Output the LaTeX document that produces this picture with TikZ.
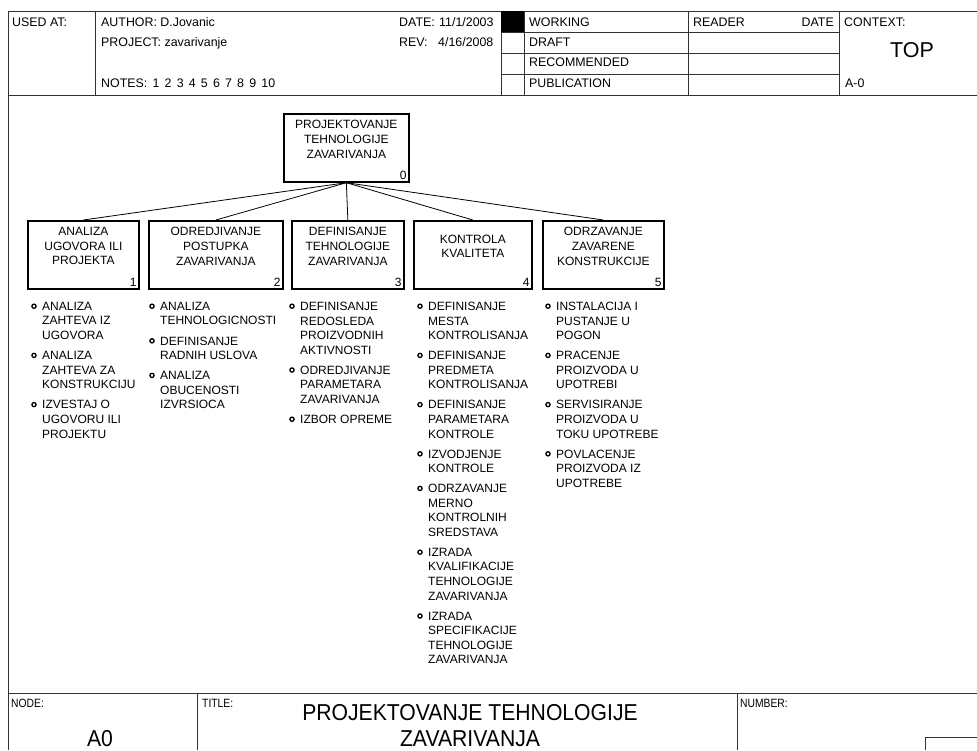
\documentclass[tikz,border=0pt]{standalone}
\usepackage{fontspec}
\setmainfont{Liberation Sans}
\newfontfamily\condensed[FakeStretch=0.86]{Liberation Sans}
\newfontfamily\titlefont[FakeStretch=0.92]{Liberation Sans}
\usetikzlibrary{calc}

\tikzset{
  rule/.style={draw=black!80, line width=0.9pt},
  actbox/.style={draw=black, line width=1.7pt, inner sep=0pt, anchor=north west, minimum height=68pt},
  link/.style={draw=black, line width=0.8pt},
  formtxt/.style={inner sep=0pt, anchor=base west, font=\fontsize{12.4}{14}\selectfont},
  boxtxt/.style={inner sep=0pt, anchor=north, align=center, font=\fontsize{12}{14.6}\selectfont},
  boxnum/.style={inner sep=0pt, anchor=base east, font=\fontsize{12}{14}\selectfont},
  itemtxt/.style={inner sep=0pt, anchor=north west, align=left, font=\fontsize{12}{14.6}\selectfont},
  bul/.style={draw=black, line width=1.3pt},
  footlbl/.style={inner sep=0pt, anchor=base west, font=\condensed\fontsize{12}{14}\selectfont},
  footbig/.style={inner sep=0pt, anchor=base, font=\titlefont\fontsize{23}{26}\selectfont},
}
% one bulleted entry: name, text x, first baseline, text
\newcommand\listentry[4]{%
  \draw[bul] (#2-8,#3-4.3) circle [radius=2.1pt];
  \node[itemtxt] (#1) at (#2,#3-8.6) {#4};}
\newcommand\gap{\hspace{5.2pt}}

\begin{document}
\begin{tikzpicture}[x=1pt,y=-1pt]
\useasboundingbox (0,0) rectangle (977,750);

% ---------- form frame and header ----------
\draw[rule] (977,11) -- (8,11) -- (8,750);
\draw[rule] (8,95) -- (977,95);
\draw[rule] (95,11) -- (95,95);
\draw[rule] (501,11) -- (501,95);
\draw[rule] (524,11) -- (524,95);
\draw[rule] (688,11) -- (688,95);
\draw[rule] (839,11) -- (839,95);
\foreach \yy in {32,53,74} \draw[rule] (501,\yy) -- (839,\yy);
\fill[black] (501,11) rectangle (524,32);

\node[formtxt] (usedat) at (12,26) {USED AT:};
\node[formtxt] (author) at (101,26) {AUTHOR: D.Jovanic};
\node[formtxt] (project) at (101,46) {PROJECT: zavarivanje};
\node[formtxt] (notes) at (101,87.5) {NOTES:\gap 1\gap 2\gap 3\gap 4\gap 5\gap 6\gap 7\gap 8\gap 9\gap 10};
\node[formtxt] (datelbl) at (399,26) {DATE:};
\node[formtxt] (dateval) at (439,26) {11/1/2003};
\node[formtxt] (revlbl) at (399,46) {REV:};
\node[formtxt] (revval) at (438,46) {4/16/2008};
\node[formtxt] (working) at (529,26) {WORKING};
\node[formtxt] (draft) at (529,46) {DRAFT};
\node[formtxt] (recomm) at (529,66.7) {RECOMMENDED};
\node[formtxt] (public) at (529,87.5) {PUBLICATION};
\node[formtxt] (reader) at (693,26) {READER};
\node[formtxt, anchor=base east] (rdate) at (834,26) {DATE};
\node[formtxt] (context) at (844,26) {CONTEXT:};
\node[inner sep=0pt, anchor=base, font=\fontsize{21.5}{24}\selectfont] (top) at (912,57.5) {TOP};
\node[formtxt] (aminus) at (845,87.5) {A-0};

% ---------- node tree ----------
\node[actbox, minimum width=125pt] (a0) at (283,113) {};
\node[actbox, minimum width=111pt] (b1) at (27,220) {};
\node[actbox, minimum width=134pt] (b2) at (148,220) {};
\node[actbox, minimum width=112pt] (b3) at (291,220) {};
\node[actbox, minimum width=118pt] (b4) at (413,220) {};
\node[actbox, minimum width=121pt] (b5) at (542,220) {};

\node[boxtxt] (a0t) at ($(a0.north)+(0,7.3)$) {PROJEKTOVANJE\\TEHNOLOGIJE\\ZAVARIVANJA};
\node[boxtxt] (b1t) at ($(b1.north)+(0,7.3)$) {ANALIZA\\UGOVORA ILI\\PROJEKTA};
\node[boxtxt] (b2t) at ($(b2.north)+(0,7.3)$) {ODREDJIVANJE\\POSTUPKA\\ZAVARIVANJA};
\node[boxtxt] (b3t) at ($(b3.north)+(0,7.3)$) {DEFINISANJE\\TEHNOLOGIJE\\ZAVARIVANJA};
\node[boxtxt] (b4t) at ($(b4.north)+(0,14.6)$) {KONTROLA\\KVALITETA};
\node[boxtxt] (b5t) at ($(b5.north)+(0,7.3)$) {ODRZAVANJE\\ZAVARENE\\KONSTRUKCIJE};

\node[boxnum] (a0n) at ($(a0.south east)+(-3,-3.7)$) {0};
\node[boxnum] (b1n) at ($(b1.south east)+(-3,-3.7)$) {1};
\node[boxnum] (b2n) at ($(b2.south east)+(-3,-3.7)$) {2};
\node[boxnum] (b3n) at ($(b3.south east)+(-3,-3.7)$) {3};
\node[boxnum] (b4n) at ($(b4.south east)+(-3,-3.7)$) {4};
\node[boxnum] (b5n) at ($(b5.south east)+(-3,-3.7)$) {5};

\foreach \c in {b1,b2,b3,b4,b5} \draw[link] (a0.south) -- (\c.north);

% ---------- decomposition lists ----------
\listentry{l1a}{42}{310.5}{ANALIZA\\ZAHTEVA IZ\\UGOVORA}
\listentry{l1b}{42}{359.7}{ANALIZA\\ZAHTEVA ZA\\KONSTRUKCIJU}
\listentry{l1c}{42}{408.9}{IZVESTAJ O\\UGOVORU ILI\\PROJEKTU}

\listentry{l2a}{160}{310.5}{ANALIZA\\TEHNOLOGICNOSTI}
\listentry{l2b}{160}{345.1}{DEFINISANJE\\RADNIH USLOVA}
\listentry{l2c}{160}{379.7}{ANALIZA\\OBUCENOSTI\\IZVRSIOCA}

\listentry{l3a}{300}{310.5}{DEFINISANJE\\REDOSLEDA\\PROIZVODNIH\\AKTIVNOSTI}
\listentry{l3b}{300}{374.3}{ODREDJIVANJE\\PARAMETARA\\ZAVARIVANJA}
\listentry{l3c}{300}{423.5}{IZBOR OPREME}

\listentry{l4a}{428}{310.5}{DEFINISANJE\\MESTA\\KONTROLISANJA}
\listentry{l4b}{428}{359.7}{DEFINISANJE\\PREDMETA\\KONTROLISANJA}
\listentry{l4c}{428}{408.9}{DEFINISANJE\\PARAMETARA\\KONTROLE}
\listentry{l4d}{428}{458.1}{IZVODJENJE\\KONTROLE}
\listentry{l4e}{428}{492.7}{ODRZAVANJE\\MERNO\\KONTROLNIH\\SREDSTAVA}
\listentry{l4f}{428}{556.5}{IZRADA\\KVALIFIKACIJE\\TEHNOLOGIJE\\ZAVARIVANJA}
\listentry{l4g}{428}{620.3}{IZRADA\\SPECIFIKACIJE\\TEHNOLOGIJE\\ZAVARIVANJA}

\listentry{l5a}{556}{310.5}{INSTALACIJA I\\PUSTANJE U\\POGON}
\listentry{l5b}{556}{359.7}{PRACENJE\\PROIZVODA U\\UPOTREBI}
\listentry{l5c}{556}{408.9}{SERVISIRANJE\\PROIZVODA U\\TOKU UPOTREBE}
\listentry{l5d}{556}{458.1}{POVLACENJE\\PROIZVODA IZ\\UPOTREBE}

% ---------- footer ----------
\draw[rule] (8,693) -- (977,693);
\draw[rule] (197,693) -- (197,750);
\draw[rule] (737,693) -- (737,750);
\draw[rule] (977,737) -- (925,737) -- (925,750);

\node[footlbl] (nodelbl) at (11,707.5) {NODE:};
\node[footlbl] (titlelbl) at (202,707.5) {TITLE:};
\node[footlbl] (numlbl) at (740,707.5) {NUMBER:};
\node[footbig] (nodeval) at (100,746) {A0};
\node[footbig] (title1) at (470,720) {PROJEKTOVANJE TEHNOLOGIJE};
\node[footbig] (title2) at (470,746) {ZAVARIVANJA};
\end{tikzpicture}
\end{document}
